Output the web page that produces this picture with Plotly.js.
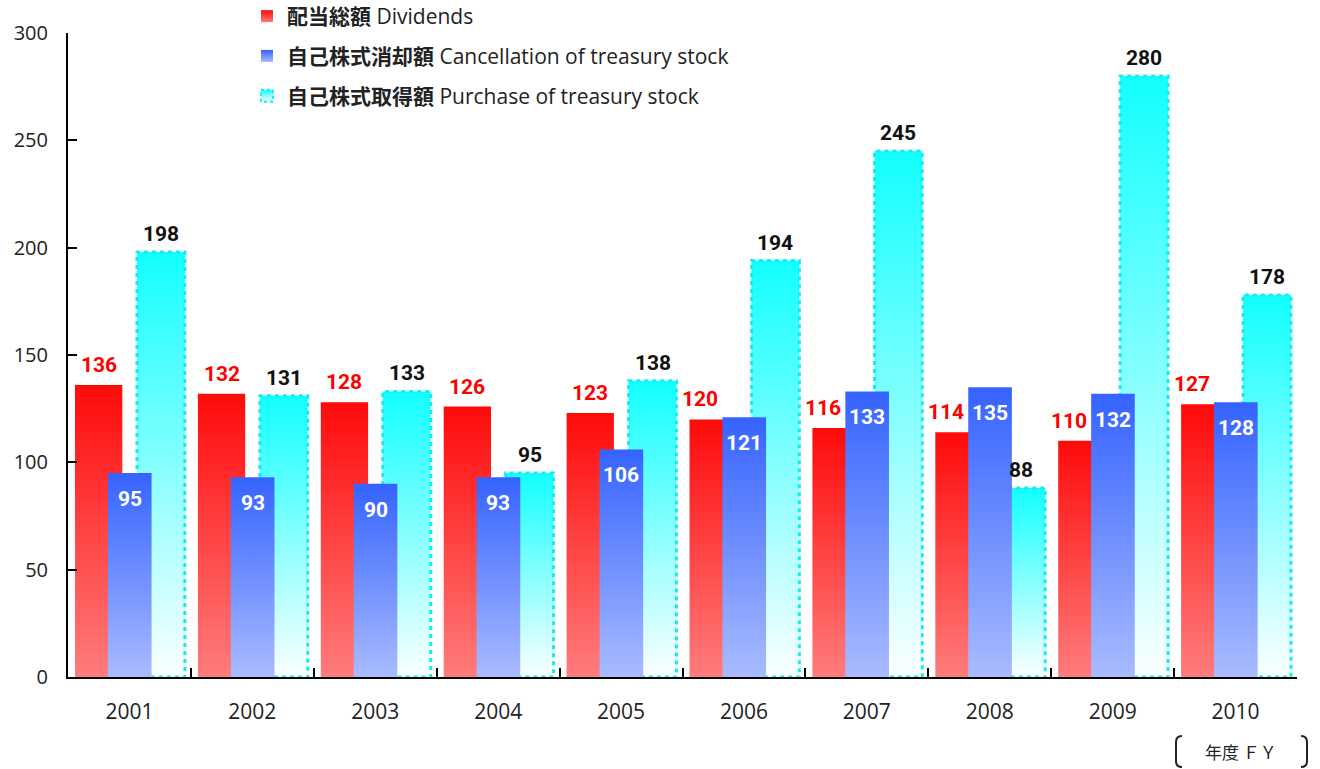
<!DOCTYPE html>
<html>
<head>
<meta charset="utf-8">
<script src="https://cdn.plot.ly/plotly-3.0.1.min.js"></script>
<style>html,body{margin:0;padding:0;background:#fff}#chart{width:1320px;height:769px}</style>
</head>
<body>
<div id="chart"></div>
<script>
// ---- data ----
const years = ['2001','2002','2003','2004','2005','2006','2007','2008','2009','2010'];
const dividends = [136,132,128,126,123,120,116,114,110,127];
const cancellation = [95,93,90,93,106,121,133,135,132,128];
const purchase = [198,131,133,95,138,194,245,88,280,178];
const seriesNames = [
  '<b>配当総額</b> Dividends',
  '<b>自己株式消却額</b> Cancellation of treasury stock',
  '<b>自己株式取得額</b> Purchase of treasury stock'
];
const yTickVals = [0,50,100,150,200,250,300];
const unitLabel = '年度 ＦＹ';

// ---- geometry / style ----
const W = 1320, H = 769, ML = 68, MR = 23, MT = 33, MB = 92;
const PW = W - ML - MR, PH = H - MT - MB;
const geo = {
  red:  {offset: -0.443, width: 0.385},
  blue: {offset: -0.175, width: 0.355},
  cyan: {offset:  0.061, width: 0.39}
};
const labelFont = {family: 'Roboto, Noto Sans, sans-serif', size: 21, weight: 'bold'};

function barTrace(key, vals, name, rank, extra) {
  return Object.assign({
    type: 'bar', x: years, y: vals, name: name,
    offset: geo[key].offset, width: geo[key].width,
    legendgroup: key, legendrank: rank,
    marker: {color: {red:'#ff3030', blue:'#5577ff', cyan:'#66ffff'}[key], line: {width: 0}},
    hoverinfo: 'skip'
  }, extra || {});
}

const data = [
  barTrace('red', dividends, seriesNames[0], 1),
  barTrace('cyan', purchase, seriesNames[2], 3, {marker: {color: '#66ffff', line: {width: 3, color: '#11eeee'}}}),
  barTrace('blue', cancellation, seriesNames[1], 2)
];

const annotations = [];
years.forEach(function (yr, i) {
  annotations.push({
    x: i + geo.red.offset + geo.red.width / 2, y: dividends[i], xref: 'x', yref: 'y',
    text: String(dividends[i]), showarrow: false, yanchor: 'middle', yshift: 20,
    xshift: cancellation[i] > dividends[i] ? -13 : 0,
    font: Object.assign({color: '#ff0000'}, labelFont)
  });
  annotations.push({
    x: i + geo.blue.offset + geo.blue.width / 2, y: cancellation[i], xref: 'x', yref: 'y',
    text: String(cancellation[i]), showarrow: false, yanchor: 'middle', yshift: -26,
    font: Object.assign({color: '#ffffff'}, labelFont)
  });
  annotations.push({
    x: i + geo.cyan.offset + geo.cyan.width / 2, y: purchase[i], xref: 'x', yref: 'y',
    text: String(purchase[i]), showarrow: false, yanchor: 'middle', yshift: 18,
    font: Object.assign({color: '#111111'}, labelFont)
  });
});

function px(xp) { return (xp - ML) / PW; }
function py(yp) { return (H - MB - yp) / PH; }

annotations.push({
  x: px(1241), y: py(751), xref: 'paper', yref: 'paper', showarrow: false,
  text: unitLabel, font: {family: 'Noto Sans CJK JP, sans-serif', size: 17, color: '#222'},
  xanchor: 'center', yanchor: 'middle'
});

function bracketPath(side) {
  const x0 = side === 'l' ? 1176 : 1307, dx = side === 'l' ? 6 : -6;
  return 'M' + px(x0 + dx) + ',' + py(736) +
    ' Q' + px(x0) + ',' + py(736) + ' ' + px(x0) + ',' + py(742) +
    ' L' + px(x0) + ',' + py(761) +
    ' Q' + px(x0) + ',' + py(767) + ' ' + px(x0 + dx) + ',' + py(767);
}

const layout = {
  width: W, height: H,
  margin: {l: ML, r: MR, t: MT, b: MB, autoexpand: false},
  paper_bgcolor: '#fff', plot_bgcolor: '#fff',
  barmode: 'overlay',
  showlegend: true,
  legend: {
    x: px(247), y: py(-4), xanchor: 'left', yanchor: 'top',
    xref: 'paper', yref: 'paper',
    traceorder: 'grouped', tracegroupgap: 9.5,
    font: {family: 'Open Sans, Noto Sans CJK JP, sans-serif', size: 21, color: '#222'},
    bgcolor: 'rgba(0,0,0,0)'
  },
  xaxis: {
    type: 'category', range: [-0.5, 9.5], fixedrange: true,
    showline: true, linecolor: '#000', linewidth: 2,
    ticks: 'inside', tickson: 'boundaries', ticklen: 9, tickwidth: 2, tickcolor: '#000',
    tickfont: {family: 'Open Sans, sans-serif', size: 21, color: '#222'},
    ticklabelstandoff: 15,
    showgrid: false, zeroline: false
  },
  yaxis: {
    range: [0, 300], tickvals: yTickVals, fixedrange: true,
    showline: true, linecolor: '#000', linewidth: 2,
    ticks: 'inside', ticklen: 9, tickwidth: 2, tickcolor: '#000',
    tickfont: {family: 'Open Sans, sans-serif', size: 20, color: '#222'},
    ticklabelstandoff: 14,
    showgrid: false, zeroline: false
  },
  shapes: [
    {type: 'path', xref: 'paper', yref: 'paper', path: bracketPath('l'), line: {color: '#222', width: 2}},
    {type: 'path', xref: 'paper', yref: 'paper', path: bracketPath('r'), line: {color: '#222', width: 2}}
  ],
  annotations: annotations
};

const gd = document.getElementById('chart');
const grads = {
  red:  [['0%', '#ff0a0a'], ['100%', '#ff7c7c']],
  blue: [['0%', '#3563ff'], ['100%', '#a9bbff']],
  cyan: [['0%', '#12ffff'], ['100%', '#fbffff']]
};

function applyGradients() {
  const ns = 'http://www.w3.org/2000/svg';
  const svg = gd.querySelector('svg.main-svg');
  let defs = svg.querySelector('defs');
  if (!defs) { defs = document.createElementNS(ns, 'defs'); svg.insertBefore(defs, svg.firstChild); }
  Object.keys(grads).forEach(function (k) {
    const lg = document.createElementNS(ns, 'linearGradient');
    lg.setAttribute('id', 'grad_' + k);
    lg.setAttribute('x1', '0'); lg.setAttribute('y1', '0');
    lg.setAttribute('x2', '0'); lg.setAttribute('y2', '1');
    grads[k].forEach(function (s) {
      const st = document.createElementNS(ns, 'stop');
      st.setAttribute('offset', s[0]); st.setAttribute('stop-color', s[1]);
      lg.appendChild(st);
    });
    defs.appendChild(lg);
  });
  const order = ['red', 'cyan', 'blue'];
  gd.querySelectorAll('.barlayer .trace').forEach(function (t, i) {
    const k = order[i];
    t.querySelectorAll('path').forEach(function (p) {
      p.style.fill = 'url(#grad_' + k + ')';
      if (k === 'cyan') p.style.strokeDasharray = '4,4';
    });
  });
  const legOrder = ['red', 'blue', 'cyan'];
  gd.querySelectorAll('.legend .traces').forEach(function (t, i) {
    let k = legOrder[i];
    try { k = t.__data__[0].trace.legendgroup || k; } catch (e) {}
    t.querySelectorAll('.legendpoints path').forEach(function (p) {
      p.style.fill = 'url(#grad_' + k + ')';
      if (k === 'cyan') { p.style.strokeDasharray = '3,3'; p.style.strokeWidth = '2px'; }
    });
  });
}

Plotly.newPlot(gd, data, layout, {staticPlot: true, displayModeBar: false}).then(applyGradients);
</script>
</body>
</html>
